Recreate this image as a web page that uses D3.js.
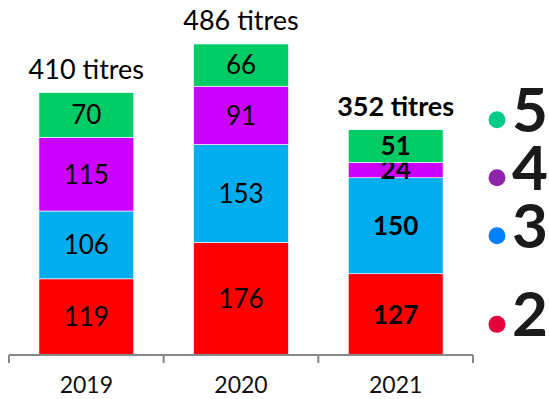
<!DOCTYPE html>
<html>
<head>
<meta charset="utf-8">
<script src="https://cdn.jsdelivr.net/npm/d3@7"></script>
<style>
  body { margin: 0; background: #fff; }
  text { font-family: Lato, "Noto Sans", sans-serif; }
</style>
</head>
<body>
<div id="chart"></div>
<script>
var years = ["2019", "2020", "2021"];
var channels = ["2", "3", "4", "5"];
var france2 = [119, 176, 127];
var france3 = [106, 153, 150];
var france4 = [115, 91, 24];
var france5 = [70, 66, 51];

var barColors = ["#ff0000", "#00aeef", "#cc00ff", "#00cc66"];
var dotColors = ["#e4003a", "#0080ff", "#8e24aa", "#00cc88"];

var width = 549,
    height = 399;

var series = [france2, france3, france4, france5];
var rows = years.map(function(y, i) {
  var r = { year: y };
  channels.forEach(function(c, k) { r[c] = series[k][i]; });
  return r;
});
var totals = rows.map(function(r) { return d3.sum(channels, function(c) { return r[c]; }); });

var stack = d3.stack().keys(channels)(rows);

var x = d3.scaleBand().domain(years).range([9, 473]);
var xIn = d3.scaleBand().domain([0]).range([0, x.bandwidth()]).padding(0.24);
var y = d3.scaleLinear().domain([0, d3.max(totals)]).range([355, 44]);

var svg = d3.select("#chart").append("svg")
    .attr("width", width)
    .attr("height", height);

var last = years[years.length - 1];

// bars
var layer = svg.selectAll(".layer")
    .data(stack)
  .enter().append("g")
    .attr("class", "layer")
    .attr("fill", function(d, i) { return barColors[i]; });

layer.selectAll("rect")
    .data(function(d) { return d; })
  .enter().append("rect")
    .attr("x", function(d) { return x(d.data.year) + xIn(0); })
    .attr("width", xIn.bandwidth())
    .attr("y", function(d) { return y(d[1]); })
    .attr("height", function(d) { return y(d[0]) - y(d[1]); })
    .attr("stroke", "#fff")
    .attr("stroke-width", 0.6);

// values inside segments
layer.selectAll("text")
    .data(function(d) { return d; })
  .enter().append("text")
    .attr("x", function(d) { return x(d.data.year) + x.bandwidth() / 2; })
    .attr("y", function(d) { return (y(d[0]) + y(d[1])) / 2; })
    .attr("dy", "0.36em")
    .attr("text-anchor", "middle")
    .attr("fill", "#000")
    .style("font-size", "26px")
    .style("font-weight", function(d) { return d.data.year == last ? 700 : 400; })
    .text(function(d) { return d[1] - d[0]; });

// totals
svg.selectAll(".total")
    .data(rows)
  .enter().append("text")
    .attr("class", "total")
    .attr("x", function(d) { return x(d.year) + x.bandwidth() / 2; })
    .attr("y", function(d, i) { return y(totals[i]) - 14; })
    .attr("text-anchor", "middle")
    .attr("fill", "#000")
    .style("font-size", function(d) { return d.year == last ? "27px" : "27px"; })
    .style("font-weight", function(d) { return d.year == last ? 700 : 400; })
    .text(function(d, i) { return totals[i] + " titres"; });

// axis
var axis = svg.append("g").attr("transform", "translate(0,355)");
axis.append("line")
    .attr("x1", x.range()[0]).attr("x2", x.range()[1])
    .attr("stroke", "#888").attr("stroke-width", 2);
var bounds = years.map(function(d) { return x(d); }).concat([x.range()[1]]);
axis.selectAll(".tick")
    .data(bounds)
  .enter().append("line")
    .attr("x1", function(d) { return d; }).attr("x2", function(d) { return d; })
    .attr("y1", 0).attr("y2", 8)
    .attr("stroke", "#888").attr("stroke-width", 2);
axis.selectAll(".year")
    .data(years)
  .enter().append("text")
    .attr("x", function(d) { return x(d) + x.bandwidth() / 2; })
    .attr("y", 38)
    .attr("text-anchor", "middle")
    .attr("fill", "#111")
    .style("font-size", "23px")
    .text(function(d) { return d; });

// legend: channel logos next to the last bar, pushed apart if they collide
var lastStack = stack.map(function(s) { return s[s.length - 1]; });
var legendY = lastStack.map(function(d) { return (y(d[0]) + y(d[1])) / 2; });
for (var k = 1; k < legendY.length; k++) {
  if (legendY[k] > legendY[k - 1] - 58) legendY[k] = legendY[k - 1] - 58;
}

var legend = svg.selectAll(".legend")
    .data(channels)
  .enter().append("g")
    .attr("class", "legend")
    .attr("transform", function(d, i) { return "translate(0," + legendY[i] + ")"; });

legend.append("circle")
    .attr("cx", 497)
    .attr("cy", 10)
    .attr("r", 8.5)
    .attr("fill", function(d, i) { return dotColors[i]; });

legend.append("text")
    .attr("x", 512)
    .attr("y", 22)
    .attr("fill", "#1a1a1a")
    .style("font-size", "62px")
    .style("font-weight", 700)
    .text(function(d) { return d; });
</script>
</body>
</html>
